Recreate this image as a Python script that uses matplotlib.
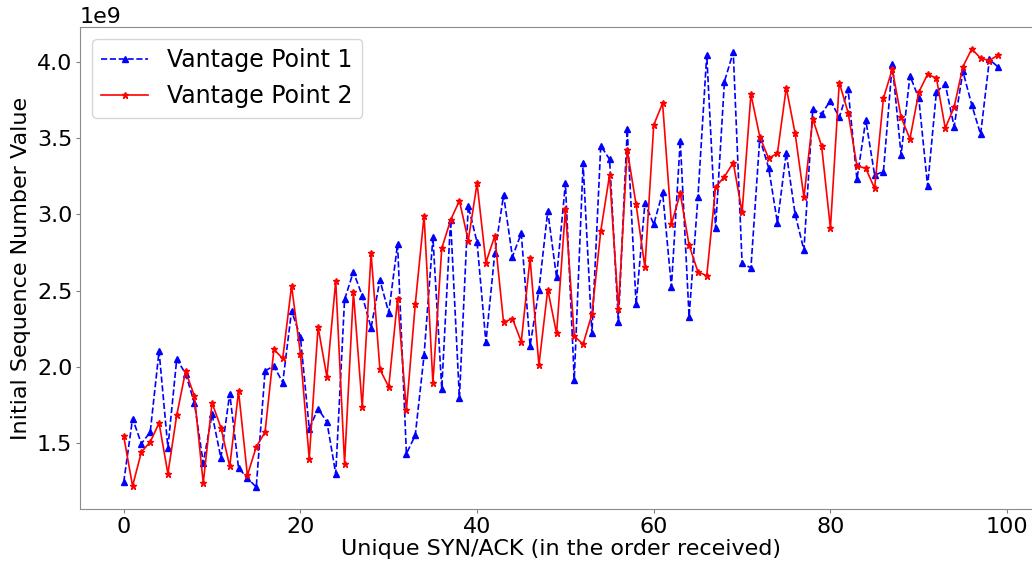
"""
Initial sequence numbers of unique SYN/ACKs seen from two vantage points.
"""

import numpy as np
import matplotlib
matplotlib.use("Agg")
import matplotlib.pyplot as plt

# ISN values (x 1e9), in the order received
vp1_isn = [
    1.246, 1.662, 1.498, 1.574, 2.104, 1.472, 2.051, 1.957, 1.765, 1.371,
    1.690, 1.404, 1.826, 1.338, 1.272, 1.213, 1.975, 2.007, 1.898, 2.368,
    2.198, 1.596, 1.727, 1.640, 1.301, 2.443, 2.624, 2.467, 2.257, 2.570,
    2.357, 2.806, 1.432, 1.552, 2.077, 2.850, 1.859, 2.963, 1.797, 3.055,
    2.817, 2.161, 2.745, 3.127, 2.723, 2.876, 2.139, 2.504, 3.022, 2.587,
    3.204, 1.918, 3.335, 2.220, 3.451, 3.361, 2.296, 3.558, 2.410, 3.073,
    2.935, 3.145, 2.526, 3.484, 2.329, 3.112, 4.046, 2.909, 3.871, 4.064,
    2.679, 2.650, 3.499, 3.307, 2.946, 3.405, 3.003, 2.766, 3.689, 3.659,
    3.746, 3.637, 3.821, 3.230, 3.619, 3.259, 3.280, 3.987, 3.390, 3.910,
    3.762, 3.186, 3.805, 3.853, 3.576, 3.937, 3.718, 3.525, 4.017, 3.965,
]
vp2_isn = [
    1.546, 1.220, 1.443, 1.509, 1.633, 1.301, 1.684, 1.972, 1.811, 1.240,
    1.765, 1.603, 1.349, 1.841, 1.290, 1.476, 1.574, 2.115, 2.056, 2.532,
    2.088, 1.399, 2.263, 1.935, 2.565, 1.367, 2.489, 1.738, 2.745, 1.984,
    1.870, 2.445, 1.717, 2.410, 2.992, 1.896, 2.777, 2.963, 3.090, 2.828,
    3.204, 2.685, 2.858, 2.292, 2.318, 2.165, 2.712, 2.012, 2.508, 2.220,
    3.033, 2.202, 2.150, 2.346, 2.891, 3.259, 2.377, 3.423, 3.066, 2.653,
    3.587, 3.729, 2.937, 3.138, 2.799, 2.624, 2.598, 3.178, 3.248, 3.339,
    3.014, 3.788, 3.510, 3.368, 3.401, 3.831, 3.532, 3.112, 3.626, 3.449,
    2.909, 3.864, 3.668, 3.318, 3.302, 3.171, 3.762, 3.952, 3.637, 3.495,
    3.801, 3.919, 3.893, 3.565, 3.703, 3.969, 4.085, 4.024, 4.009, 4.046,
]

vp1 = np.array(vp1_isn) * 1e9
vp2 = np.array(vp2_isn) * 1e9
idx = np.arange(len(vp1))

fig = plt.figure(figsize=(10.32, 5.64), dpi=100)
# axes runs past the right edge of the figure, like the cropped original
ax = fig.add_axes([80 / 1032, 55 / 564, 962 / 1032, 482 / 564])

ax.plot(idx, vp1, color="blue", linestyle="--", marker="^", markersize=5,
        linewidth=1.2, label="Vantage Point 1")
ax.plot(idx, vp2, color="red", linestyle="-", marker="*", markersize=5,
        linewidth=1.2, label="Vantage Point 2")

ax.set_xlabel("Unique SYN/ACK (in the order received)", fontsize=16, labelpad=2)
ax.set_ylabel("Initial Sequence Number Value", fontsize=16)
ax.set_xticks([0, 20, 40, 60, 80, 100])
ax.tick_params(labelsize=16, color="0.5", length=3, pad=2.5)
ax.yaxis.get_offset_text().set_fontsize(16)
for s in ax.spines.values():
    s.set_color("0.55")

ax.legend(loc="upper left", fontsize=17)

plt.savefig("out.png", dpi=100)
plt.close()
